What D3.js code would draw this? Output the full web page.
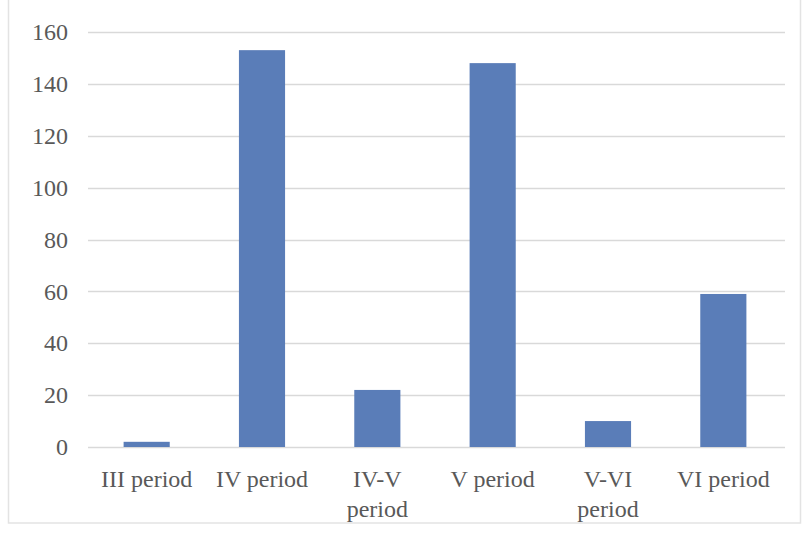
<!DOCTYPE html>
<html>
<head>
<meta charset="utf-8">
<script src="https://cdn.jsdelivr.net/npm/d3@7"></script>
<style>
  html, body { margin: 0; padding: 0; background: #fff; }
  svg { display: block; }
</style>
</head>
<body>
<svg id="chart" width="810" height="535"></svg>
<script>
const categories = ["III period", "IV period", "IV-V period", "V period", "V-VI period", "VI period"];
const values = [2, 153, 22, 148, 10, 59];
const yTicks = [0, 20, 40, 60, 80, 100, 120, 140, 160];

const svg = d3.select("#chart");
const W = 810, H = 535;
const margin = { left: 89, right: 29, top: 32, bottom: 88 };
const fontFamily = "'Liberation Serif', 'Times New Roman', serif";

// outer chart border
svg.append("rect")
  .attr("x", 8.5).attr("y", -1)
  .attr("width", 792).attr("height", 524)
  .attr("fill", "#fff").attr("stroke", "#e3e3e3").attr("stroke-width", 1.5);

const x = d3.scaleBand()
  .domain(categories)
  .range([margin.left, W - margin.right])
  .paddingInner(0.6).paddingOuter(0.3);

const y = d3.scaleLinear()
  .domain([0, 160])
  .range([H - margin.bottom, margin.top]);

// gridlines
svg.append("g")
  .selectAll("line")
  .data(yTicks)
  .join("line")
  .attr("x1", 88).attr("x2", W - margin.right + 4)
  .attr("y1", d => Math.round(y(d)) + 0.5).attr("y2", d => Math.round(y(d)) + 0.5)
  .attr("stroke", "#d9d9d9").attr("stroke-width", 1.3);

// y axis labels
const yAxis = d3.axisLeft(y).tickValues(yTicks).tickSize(0).tickPadding(20);
const ya = svg.append("g")
  .attr("transform", `translate(88,0)`)
  .call(yAxis);
ya.select(".domain").remove();
ya.selectAll("text")
  .attr("font-family", fontFamily)
  .attr("font-size", 24)
  .attr("fill", "#595959");

// bars
svg.append("g")
  .selectAll("rect")
  .data(categories)
  .join("rect")
  .attr("x", d => x(d))
  .attr("width", x.bandwidth())
  .attr("y", (d, i) => y(values[i]))
  .attr("height", (d, i) => y(0) - y(values[i]))
  .attr("fill", "#5a7db8");

// x axis labels
const xAxis = d3.axisBottom(x).tickSize(0).tickPadding(0);
const xa = svg.append("g")
  .attr("transform", `translate(0,${y(0)})`)
  .call(xAxis);
xa.select(".domain").remove();
const step = x.step();
xa.selectAll(".tick text")
  .attr("font-family", fontFamily)
  .attr("font-size", 24)
  .attr("fill", "#595959")
  .attr("y", 0)
  .attr("dy", null)
  .each(function(d) {
    const t = d3.select(this);
    t.text(null);
    const probe = t.append("tspan").text(d);
    const w = probe.node().getComputedTextLength();
    probe.remove();
    let lines = [d];
    if (w > step * 0.95) {
      const words = d.split(" ");
      lines = [words.slice(0, -1).join(" "), words[words.length - 1]];
    }
    lines.forEach((ln, i) => {
      t.append("tspan").attr("x", 0).attr("y", 40 + i * 30).text(ln);
    });
  });
</script>
</body>
</html>
